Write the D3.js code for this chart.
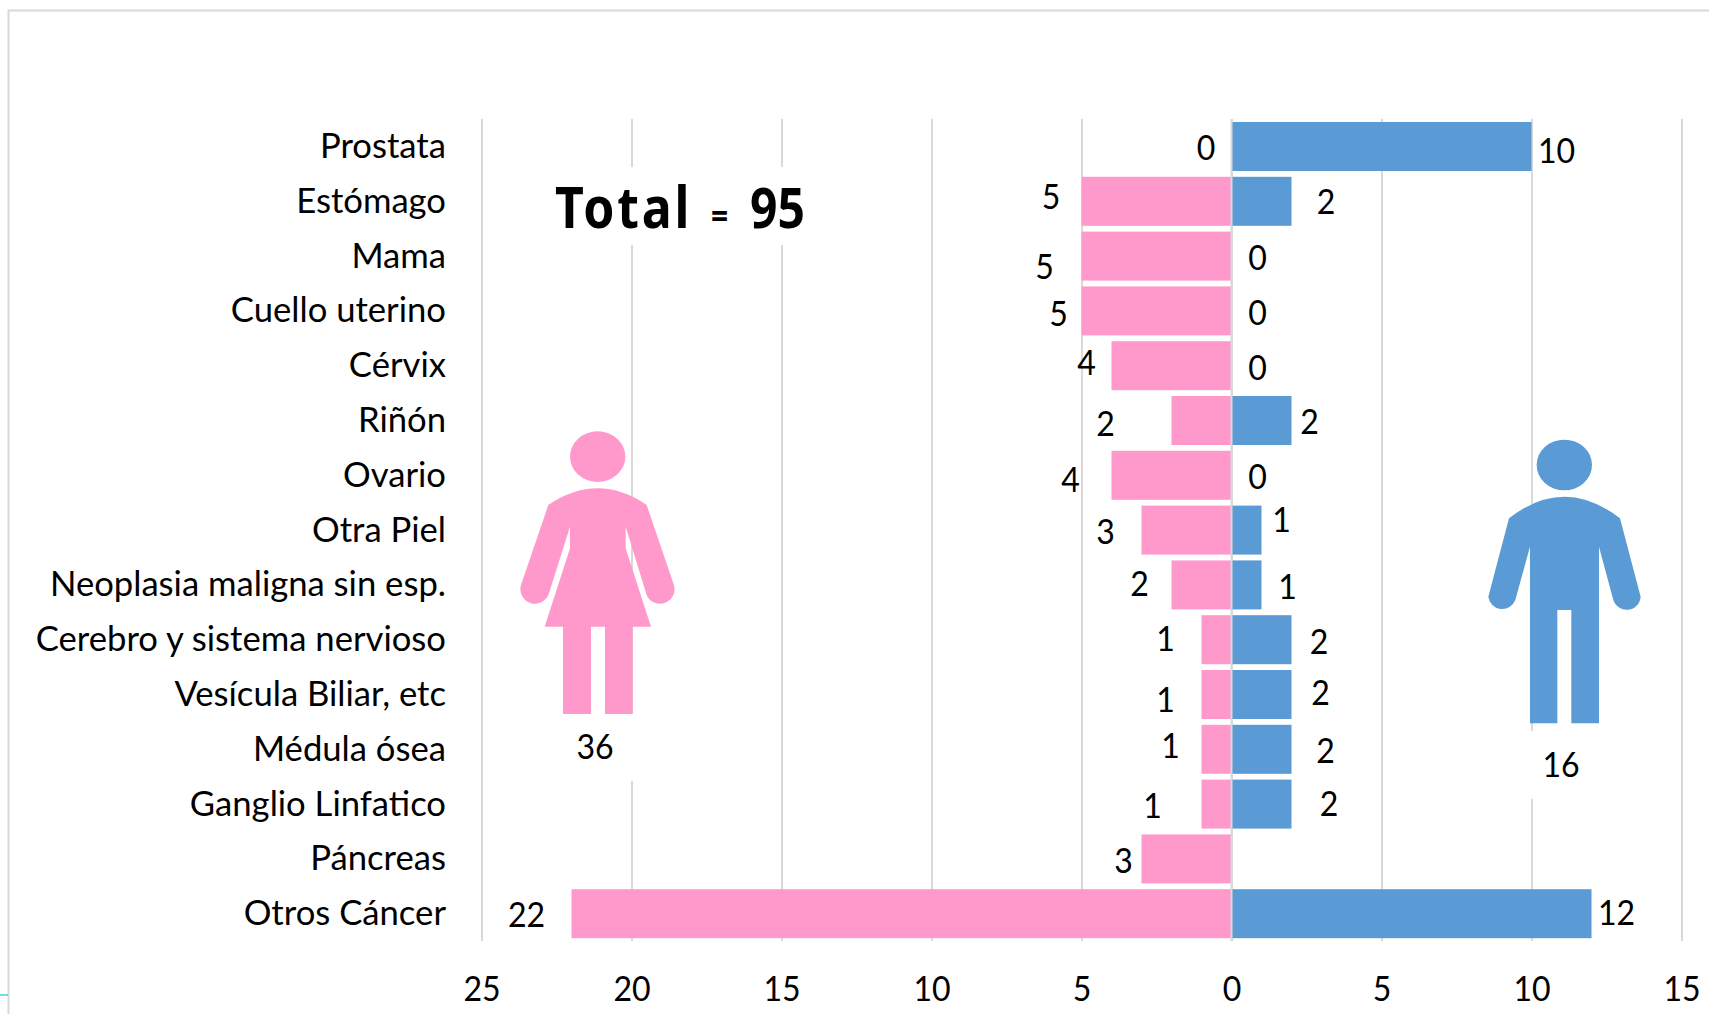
<!DOCTYPE html>
<html><head><meta charset="utf-8">
<script src="https://cdn.jsdelivr.net/npm/d3@7"></script>
<style>
html,body{margin:0;padding:0;background:#fff;overflow:hidden}
svg{display:block}
text{font-family:Lato,"Noto Sans",sans-serif;fill:#000}
</style></head><body>
<script>
const categories = ["Prostata","Estómago","Mama","Cuello uterino","Cérvix","Riñón","Ovario","Otra Piel","Neoplasia maligna sin esp.","Cerebro y sistema nervioso","Vesícula Biliar, etc","Médula ósea","Ganglio Linfatico","Páncreas","Otros Cáncer"];
const femaleValues = [0,5,5,5,4,2,4,3,2,1,1,1,1,3,22];
const maleValues = [10,2,0,0,0,2,0,1,1,2,2,2,2,null,12];
const tickValues = [-25,-20,-15,-10,-5,0,5,10,15];
const totalWord = "Total";
const totalEquals = "=";
const totalValue = "95";
const femaleTotal = "36";
const maleTotal = "16";

// hand-placed label nudges, in pixels from each bar end / band centre
const femaleDx = [-25.5,-30.5,-37,-23,-25,-66,-41,-36,-32,-36,-36,-31,-49,-18,-45];
const femaleDy = [0.5,-6,9.5,2,-4,2,3.5,0.5,-2.5,-2,4,-5,0,1,-0.5];
const maleDx = [25,34.5,26,26,26,18,26,20,26,27.5,29,34,37.5,0,25];
const maleDy = [3,-1,0,0.5,0.5,0,0,-12,0.5,0.5,-3,0,-1.5,0,-2.5];

const PINK = "#FF99CC", BLUE = "#5B9BD5", GRID = "#d9d9d9";
const NUM_FONT = 34.5, NUM_SCALE = 0.93, CAT_FONT = 35, CAT_SCALE = 0.99;

const svg = d3.select("body").append("svg").attr("width",1709).attr("height",1014);
svg.append("rect").attr("width",1709).attr("height",1014).attr("fill","#fff");

const x = d3.scaleLinear().domain([-25,15]).range([481.5,1681.5]);
const y = d3.scaleBand().domain(categories).range([119.1,941.1]).paddingInner(0.106).paddingOuter(0.053);

// frame
svg.append("path").attr("d","M1709,10.5H8.5V1014").attr("fill","none").attr("stroke",GRID).attr("stroke-width",2);
svg.append("line").attr("x1",0).attr("x2",8).attr("y1",995).attr("y2",995).attr("stroke","#35d6ee").attr("stroke-width",1.5);

// gridlines and tick labels through the axis
const axis = d3.axisBottom(x).tickValues(tickValues).tickFormat(d=>Math.abs(d)).tickSize(0);
const gGrid = svg.append("g").attr("transform","translate(0,941.1)").call(axis);
gGrid.select(".domain").remove();
gGrid.selectAll(".tick").append("line").attr("y1",0).attr("y2",-822).attr("stroke",GRID).attr("stroke-width",2);
gGrid.selectAll(".tick text").attr("y",0).attr("dy",0).attr("font-size",NUM_FONT)
  .attr("text-anchor","middle")
  .attr("transform",`translate(0,60) scale(${NUM_SCALE},1)`).attr("fill","#000");

// white text boxes masking the gridlines
[[540,167,270,78],[575,714,90,67],[1490,731,90,68]].forEach(b=>
  svg.append("rect").attr("x",b[0]).attr("y",b[1]).attr("width",b[2]).attr("height",b[3]).attr("fill","#fff"));

// bars
svg.append("g").selectAll("rect").data(categories).join("rect")
  .attr("x",(d,i)=>x(-femaleValues[i])).attr("y",d=>y(d))
  .attr("width",(d,i)=>x(0)-x(-femaleValues[i])).attr("height",y.bandwidth()).attr("fill",PINK);
svg.append("g").selectAll("rect").data(categories).join("rect")
  .attr("x",x(0)).attr("y",d=>y(d))
  .attr("width",(d,i)=>x(maleValues[i]||0)-x(0)).attr("height",y.bandwidth()).attr("fill",BLUE);
svg.append("line").attr("x1",x(0)).attr("x2",x(0)).attr("y1",119.1).attr("y2",941.1).attr("stroke",GRID).attr("stroke-width",2);

function label(sel,tx,ty,t,anchor,font,sx){
  return sel.append("text").attr("transform",`translate(${tx},${ty}) scale(${sx||NUM_SCALE},1)`)
    .attr("text-anchor",anchor||"middle").attr("dominant-baseline","central").attr("font-size",font||NUM_FONT).text(t);
}
// categories
const gCat = svg.append("g");
categories.forEach(c=>label(gCat,446,y(c)+y.bandwidth()/2-2,c,"end",CAT_FONT,CAT_SCALE));
// value labels
const gVal = svg.append("g");
categories.forEach((c,i)=>{
  const cy = y(c)+y.bandwidth()/2;
  label(gVal,x(-femaleValues[i])+femaleDx[i],cy+femaleDy[i],femaleValues[i]);
  if(maleValues[i]!==null) label(gVal,x(maleValues[i])+maleDx[i],cy+maleDy[i],maleValues[i]);
});

// pictograms, drawn in 3x crop units
const womanBody = "M205,315 Q353,215 500,315 L580,550 A42,42 0 0 1 500,585 L437,380 V445 L513,680 H458 V942 H375 V680 H333 V942 H249 V680 H194 L270,445 V380 L207,580 A42,42 0 0 1 123,555 Z";
const manBody = "M207,355 Q373,225 540,355 L602,590 A42,42 0 0 1 520,600 L477,440 V970 H394 V630 H352 V970 H270 V440 L226,600 A42,42 0 0 1 145,590 Z";
const w = svg.append("g").attr("transform","translate(480,400) scale(0.3333)").attr("fill",PINK);
w.append("ellipse").attr("cx",353).attr("cy",170).attr("rx",83).attr("ry",76);
w.append("path").attr("d",womanBody);
const m = svg.append("g").attr("transform","translate(1440,400) scale(0.3333)").attr("fill",BLUE);
m.append("ellipse").attr("cx",373).attr("cy",195).attr("rx",83).attr("ry",76);
m.append("path").attr("d",manBody);

label(svg,595,746,femaleTotal);
label(svg,1561,764,maleTotal);

[[totalWord,555,50,2.8],[totalEquals,711,30,0],[totalValue,750,48,0]].forEach(([t,px,fs,ls])=>
  svg.append("text").style("font-family","'Noto Sans',sans-serif").attr("font-weight",700)
    .attr("transform",`translate(${px},228) scale(1,1.14)`).attr("font-size",fs).attr("letter-spacing",ls).text(t));
</script>
</body></html>
